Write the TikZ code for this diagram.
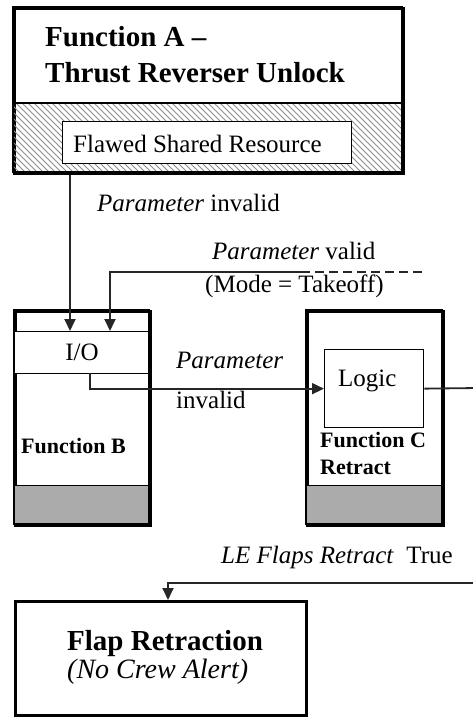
\documentclass[tikz,border=0pt]{standalone}
\usepackage{fontspec}
\setmainfont{Liberation Serif}
\usetikzlibrary{arrows.meta}
\begin{document}
\begin{tikzpicture}[x=1pt,y=-1pt,
  box/.style={draw=black, line width=2.6pt, fill=white, rectangle, inner sep=0pt, anchor=north west},
  inbox/.style={draw=black, line width=1.3pt, fill=white, rectangle, inner sep=0pt, anchor=north west},
  band/.style={fill=black!33, draw=black, line width=1.3pt, rectangle, inner sep=0pt, anchor=north west},
  lbl/.style={inner sep=0pt, anchor=base west, font=\fontsize{25}{30}\selectfont},
  ttl/.style={inner sep=0pt, anchor=base west, font=\fontsize{29}{35}\selectfont\bfseries},
  fnl/.style={inner sep=0pt, anchor=base west, font=\fontsize{22}{26}\selectfont\bfseries},
  conn/.style={draw=black!85, line width=1.8pt, -{Triangle[length=12pt,width=11pt]}},
  wire/.style={draw=black!85, line width=1.8pt}]
\useasboundingbox (0,0) rectangle (472,717);

% Function A with its hatched shared-resource band
\node[box, minimum width=389pt, minimum height=165pt] (funcA) at (13,7) {};
\begin{scope}
  \clip (13,103) rectangle (402,172);
  \foreach \x in {-80,-74,...,410} {
    \draw[black!45, line width=0.9pt] (\x,103) -- (\x+72,175);
  }
\end{scope}
\draw[line width=2.6pt] (13,7) rectangle (402,172);
\draw[line width=1.8pt] (13,103) -- (402,103);
\node[inbox, minimum width=289pt, minimum height=42pt] (flawed) at (62,121) {};
\node[lbl] (flawedtxt) at (73,152) {Flawed Shared Resource};
\node[ttl] (titleA1) at (45,47) {Function A –};
\node[ttl] (titleA2) at (45,82) {Thrust Reverser Unlock};

% Function B
\node[box, minimum width=135pt, minimum height=214pt] (funcB) at (14,310) {};
\node[band, minimum width=135pt, minimum height=39pt] (bandB) at (14,485) {};
\node[inbox, minimum width=134pt, minimum height=42pt] (io) at (14,331) {};
\node[lbl, anchor=center] (iotxt) at (82,352) {I/O};
\node[fnl] (labB) at (21,453) {Function B};
\draw[line width=2.6pt] (14,310) rectangle (149,524);

% Function C
\node[box, minimum width=136pt, minimum height=214pt] (funcC) at (306,310) {};
\node[band, minimum width=136pt, minimum height=39pt] (bandC) at (306,485) {};
\draw[line width=2.6pt] (306,310) rectangle (442,524);
\node[inbox, minimum width=99pt, minimum height=78pt] (logic) at (324,349) {};
\node[lbl] (logictxt) at (338,386) {Logic};
\node[fnl] (labC1) at (320,447) {Function C};
\node[fnl] (labC2) at (320,474) {Retract};

% Flap retraction
\node[box, minimum width=291pt, minimum height=114pt] (flap) at (14,600) {};
\node[ttl] (flapt1) at (67,650) {Flap Retraction};
\node[lbl, font=\fontsize{28}{34}\selectfont\itshape] (flapt2) at (67,678) {(No Crew Alert)};

% connector end points
\coordinate (ioinA) at (70,331);
\coordinate (ioinB) at (110,331);
\coordinate (ioout) at (90,373);
\coordinate (validsrc) at (422,272);
\coordinate (validbrk) at (302,272);
\coordinate (edgeTop) at (478,388);
\coordinate (edgeBot) at (478,583);
\coordinate (flapin) at (168,600);

% connectors
\draw[conn] (ioinA |- funcA.south) -- (ioinA);
\draw[wire, dash pattern=on 9pt off 5pt] (validsrc) -- (validbrk);
\draw[conn] (validbrk) -| (ioinB);
\draw[conn] (ioout) |- (logic.west);
\draw[conn] (logic.east) -- (edgeTop) -- (edgeBot) -| (flapin);

% connector labels
\node[lbl] (l1) at (97,211) {\textit{Parameter} invalid};
\node[lbl] (l2) at (212,259) {\textit{Parameter} valid};
\node[lbl] (l3) at (205,292) {(Mode = Takeoff)};
\node[lbl] (l4a) at (176,368) {\textit{Parameter}};
\node[lbl] (l4b) at (176,408) {invalid};
\node[lbl] (l5) at (221,563) {\textit{LE Flaps Retract}\ \ True};
\end{tikzpicture}
\end{document}
